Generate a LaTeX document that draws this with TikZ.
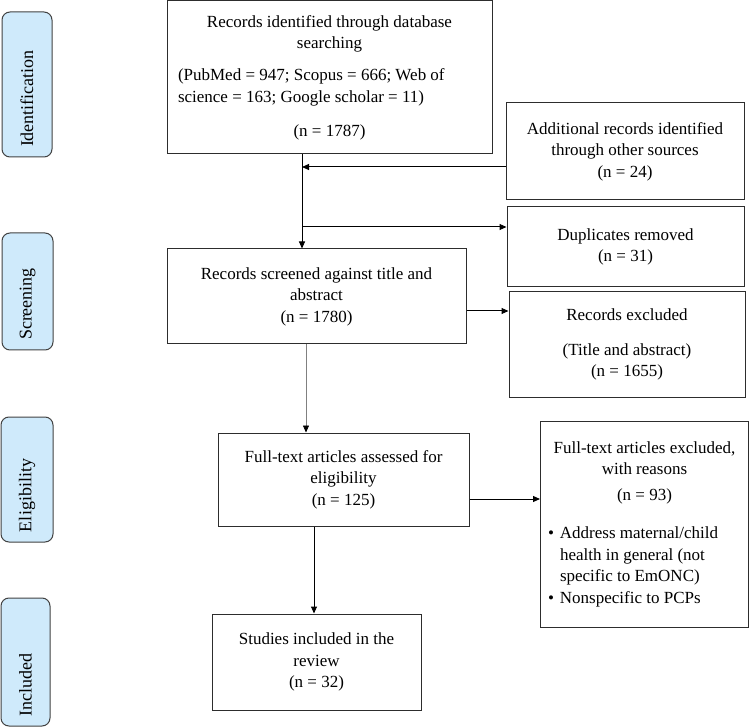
\documentclass[tikz,border=0pt]{standalone}
\usepackage{fontspec}
\setmainfont{Liberation Serif}
\definecolor{stageblue}{RGB}{207, 234, 251}
\definecolor{boxline}{RGB}{45, 45, 45}
\usetikzlibrary{arrows.meta, positioning, calc}

\begin{document}
\begin{tikzpicture}[x=1pt, y=-1pt,
    >={Triangle[length=7pt, width=6pt]},
    flowbox/.style={draw=boxline, line width=1pt, fill=white, align=center,
      font=\fontsize{17}{21.5}\selectfont},
    stage/.style={draw=boxline!90, line width=1pt, fill=stageblue, rounded corners=8pt,
      rotate=90, align=left, inner xsep=10pt, font=\fontsize{18}{22}\selectfont},
    link/.style={->, line width=1pt, draw=black}]
  \useasboundingbox (0,0) rectangle (750,727);

  % stage labels down the left side
  \node[stage, minimum width=145pt, minimum height=50pt, text width=125pt] (lid) at (27,84.5) {Identification};
  \node[stage, minimum width=117pt, minimum height=51pt, text width=97pt] (lscr) at (27.5,291.5) {Screening};
  \node[stage, minimum width=125pt, minimum height=52pt, text width=105pt] (lelig) at (27,479.5) {Eligibility};
  \node[stage, minimum width=128pt, minimum height=49pt, text width=108pt] (linc) at (25.5,662) {Included};

  % main column
  \node[flowbox, minimum width=325pt, minimum height=153pt] (ident) at (329.5,77.5) {
    Records identified through database\\
    searching\\[10.5pt]
    \makebox[303pt][l]{(PubMed = 947; Scopus = 666; Web of}\\
    \makebox[303pt][l]{science = 163; Google scholar = 11)}\\[12.5pt]
    (n = 1787)};
  \node[flowbox, minimum width=299pt, minimum height=95pt] (screened) at (316.5,296.5) {
    Records screened against title and\\abstract\\(n = 1780)};
  \node[flowbox, minimum width=251pt, minimum height=93pt] (fulltext) at (343.5,479.5) {
    Full-text articles assessed for\\eligibility\\(n = 125)};
  \node[flowbox, minimum width=209pt, minimum height=96pt] (studies) at (316.5,662) {
    Studies included in the\\review\\(n = 32)};

  % side boxes
  \node[flowbox, minimum width=238pt, minimum height=97pt] (add) at (625,151.5) {
    Additional records identified\\through other sources\\(n = 24)};
  \node[flowbox, minimum width=237pt, minimum height=80pt] (dup) at (625.5,247) {
    Duplicates removed\\(n = 31)};
  \node[flowbox, minimum width=236pt, minimum height=105pt] (excl) at (627,344.5) {
    Records excluded\\[13.5pt](Title and abstract)\\(n = 1655)};
  \node[flowbox, minimum width=208pt, minimum height=206pt] (reasons) at (644.5,524) {
    Full-text articles excluded,\\with reasons\\[4.5pt](n = 93)\\[16.5pt]
    \makebox[193pt][l]{\textbullet\hspace{6pt}Address maternal/child}\\
    \makebox[193pt][l]{\hspace{12pt}health in general (not}\\
    \makebox[193pt][l]{\hspace{12pt}specific to EmONC)}\\
    \makebox[193pt][l]{\textbullet\hspace{6pt}Nonspecific to PCPs}};

  % where the connectors run
  \coordinate (join) at (302,167);
  \coordinate (split) at (302,227);
  \coordinate (scrout) at (0,311);
  \coordinate (scrdown) at (306,0);
  \coordinate (ftout) at (0,499);
  \coordinate (ftdown) at (314,0);

  \draw[link] (ident.south -| join) -- (screened.north -| join);
  \draw[link] (add.west |- join) -- (join);
  \draw[link] (split) -- (split -| dup.west);
  \draw[link] (screened.east |- scrout) -- (excl.west |- scrout);
  \draw[->, line width=0.7pt, draw=gray, >={Triangle[length=7pt, width=6pt, color=black]}]
    (screened.south -| scrdown) -- (fulltext.north -| scrdown);
  \draw[link] (fulltext.east |- ftout) -- (reasons.west |- ftout);
  \draw[link] (fulltext.south -| ftdown) -- (studies.north -| ftdown);
\end{tikzpicture}
\end{document}
